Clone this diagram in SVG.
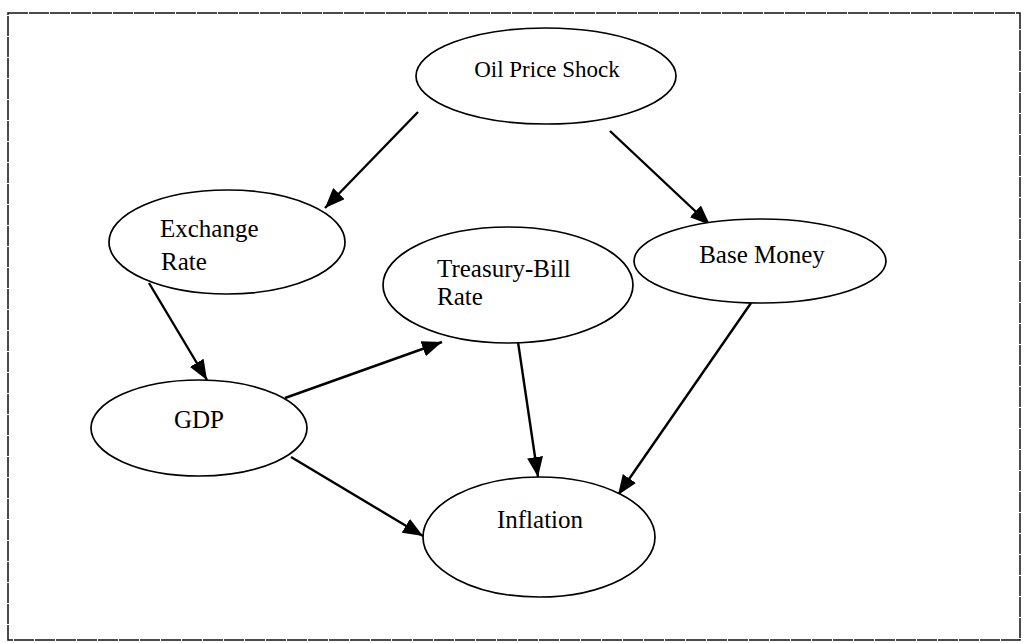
<svg xmlns="http://www.w3.org/2000/svg" width="1027" height="643" viewBox="0 0 1027 643">
  <style>
    .node ellipse { fill: #ffffff; stroke: #000000; stroke-width: 1.7; }
    .node text { font-family: "Liberation Serif", "Times New Roman", serif; font-size: 25px; fill: #000000; }
    .edge { stroke: #000000; stroke-width: 2.4; fill: none; marker-end: url(#head); }
    .frame { fill: none; stroke: #111111; stroke-width: 1.5; stroke-dasharray: 20 1; }
  </style>
  <defs>
    <marker id="head" viewBox="0 0 20 16" refX="20" refY="8" markerWidth="20" markerHeight="16" markerUnits="userSpaceOnUse" orient="auto">
      <path d="M0,0 L20,8 L0,16 Z" fill="#000000"/>
    </marker>
  </defs>

  <rect class="frame" x="8" y="13" width="1012" height="627"/>

  <g id="connectors">
    <line class="edge" x1="418" y1="112" x2="325" y2="208"/>
    <line class="edge" x1="610" y1="131" x2="710" y2="225"/>
    <line class="edge" x1="149" y1="283" x2="207" y2="380"/>
    <line class="edge" x1="285" y1="398" x2="442" y2="342"/>
    <line class="edge" x1="518" y1="342" x2="538" y2="477"/>
    <line class="edge" x1="751" y1="303" x2="618" y2="495"/>
    <line class="edge" x1="291" y1="457" x2="423" y2="536"/>
  </g>

  <g id="oil-price-shock" class="node">
    <ellipse cx="546" cy="76" rx="130" ry="48"/>
    <text x="547" y="77" text-anchor="middle" style="font-size:23px">Oil Price Shock</text>
  </g>

  <g id="exchange-rate" class="node">
    <ellipse cx="227" cy="242" rx="118" ry="52"/>
    <text x="160" y="237">Exchange</text>
    <text x="161" y="270">Rate</text>
  </g>

  <g id="treasury-bill-rate" class="node">
    <ellipse cx="508" cy="285" rx="125" ry="58"/>
    <text x="437" y="277">Treasury-Bill</text>
    <text x="437" y="305">Rate</text>
  </g>

  <g id="base-money" class="node">
    <ellipse cx="760" cy="261" rx="126" ry="42"/>
    <text x="762" y="263" text-anchor="middle">Base Money</text>
  </g>

  <g id="gdp" class="node">
    <ellipse cx="199" cy="428" rx="108" ry="48"/>
    <text x="199" y="428" text-anchor="middle">GDP</text>
  </g>

  <g id="inflation" class="node">
    <ellipse cx="539" cy="537" rx="116" ry="60"/>
    <text x="540" y="528" text-anchor="middle">Inflation</text>
  </g>
</svg>
